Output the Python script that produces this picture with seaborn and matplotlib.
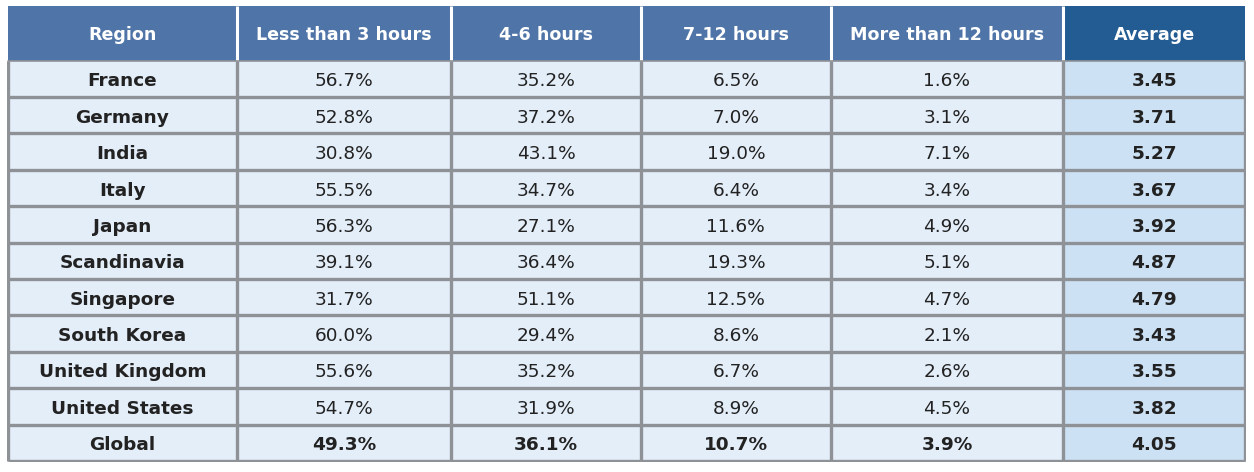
import numpy as np
import pandas as pd
import matplotlib.pyplot as plt
import seaborn as sns
from matplotlib.colors import ListedColormap

# Table data
columns = ["Region", "Less than 3 hours", "4-6 hours", "7-12 hours",
           "More than 12 hours", "Average"]
regions = ["France", "Germany", "India", "Italy", "Japan", "Scandinavia",
           "Singapore", "South Korea", "United Kingdom", "United States", "Global"]
less_3h = ["56.7%", "52.8%", "30.8%", "55.5%", "56.3%", "39.1%",
           "31.7%", "60.0%", "55.6%", "54.7%", "49.3%"]
h4_6 = ["35.2%", "37.2%", "43.1%", "34.7%", "27.1%", "36.4%",
        "51.1%", "29.4%", "35.2%", "31.9%", "36.1%"]
h7_12 = ["6.5%", "7.0%", "19.0%", "6.4%", "11.6%", "19.3%",
         "12.5%", "8.6%", "6.7%", "8.9%", "10.7%"]
more_12h = ["1.6%", "3.1%", "7.1%", "3.4%", "4.9%", "5.1%",
            "4.7%", "2.1%", "2.6%", "4.5%", "3.9%"]
average = ["3.45", "3.71", "5.27", "3.67", "3.92", "4.87",
           "4.79", "3.43", "3.55", "3.82", "4.05"]

df = pd.DataFrame({columns[0]: regions, columns[1]: less_3h, columns[2]: h4_6,
                   columns[3]: h7_12, columns[4]: more_12h, columns[5]: average})

# layout: column widths and row heights in grid units
col_w = [229, 215, 190, 190, 233, 182]
head_h, row_h = 3, 2

head_col = "#4F74A7"
avg_head_col = "#225C92"
body_col = "#E4EEF9"
avg_body_col = "#CDE1F4"
grid_col = "#8E9196"
text_col = "#222222"

# colour category per cell (0 body, 1 avg body, 2 header, 3 avg header)
ncol = len(columns)
nrow = len(df)
cat = np.zeros((nrow + 1, ncol))
cat[0, :] = 2
cat[0, -1] = 3
cat[1:, -1] = 1
grid = np.repeat(cat, [head_h] + [row_h] * nrow, axis=0)
grid = np.repeat(grid, col_w, axis=1)

sns.set_theme(style="white")
plt.rcParams['font.family'] = ['DejaVu Sans']

fig = plt.figure(figsize=(12.54, 4.72), dpi=100)
ax = fig.add_axes([7 / 1254, 10 / 472, 1239 / 1254, 456 / 472])
cmap = ListedColormap([body_col, avg_body_col, head_col, avg_head_col])
sns.heatmap(grid, cmap=cmap, vmin=-0.5, vmax=3.5, cbar=False,
            xticklabels=False, yticklabels=False, ax=ax)

xe = np.concatenate([[0], np.cumsum(col_w)])
ye = np.concatenate([[0], head_h + row_h * np.arange(nrow + 1)])
W, H = xe[-1], ye[-1]

# grid lines
for x in xe[1:-1]:
    ax.plot([x, x], [0, head_h], color="white", lw=2.2, solid_capstyle="butt")
for x in xe:
    ax.plot([x, x], [head_h, H], color=grid_col, lw=2.4, solid_capstyle="butt")
for y in ye[2:]:
    ax.plot([0, W], [y, y], color=grid_col, lw=2.4, solid_capstyle="butt")
ax.plot([0, W], [head_h, head_h], color=grid_col, lw=1.2)

fs_head = 12.6
fs = 13.3
for j, c in enumerate(columns):
    ax.text((xe[j] + xe[j + 1]) / 2, head_h / 2 + 0.12, c, ha="center", va="center",
            color="white", fontsize=fs_head, fontweight="bold")

for i in range(nrow):
    yc = (ye[i + 1] + ye[i + 2]) / 2 + 0.14
    last = i == nrow - 1
    for j, c in enumerate(columns):
        bold = j == 0 or j == ncol - 1 or last
        ax.text((xe[j] + xe[j + 1]) / 2, yc, df.iloc[i, j], ha="center", va="center",
                color=text_col, fontsize=fs, fontweight="bold" if bold else "normal")

ax.set_xlim(-1, W + 1)
ax.set_ylim(H + 0.06, 0)
ax.axis("off")

fig.savefig("out.png", dpi=100, facecolor="white")
